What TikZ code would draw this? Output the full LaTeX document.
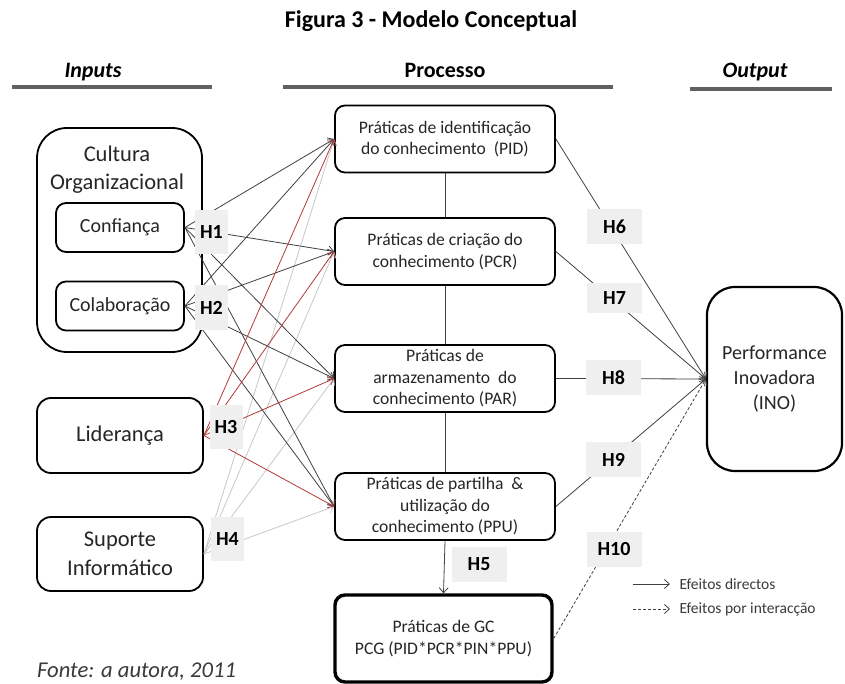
\documentclass[tikz,border=0pt]{standalone}
\usepackage{fontspec}
\setmainfont{Carlito}
\usetikzlibrary{arrows.meta}
\definecolor{txt}{HTML}{262626}
\definecolor{lnk}{HTML}{404040}
\definecolor{redl}{HTML}{B23A3A}
\definecolor{grayl}{HTML}{C8C8C8}
\definecolor{hbg}{HTML}{EFEFEF}
\definecolor{rulec}{HTML}{616161}
\definecolor{legc}{HTML}{3A3A3A}
\begin{document}
\begin{tikzpicture}[x=1pt,y=-1pt,
  box/.style={draw=black, line width=1.8pt, rounded corners=10pt, align=center, text=txt, inner sep=0pt},
  procbox/.style={box, minimum width=220pt, minimum height=67pt, font=\fontsize{17.6}{21.5}\selectfont},
  inbox/.style={box, minimum width=166pt, minimum height=74pt, rounded corners=14pt, font=\fontsize{22.5}{29}\selectfont},
  subbox/.style={box, minimum width=128pt, minimum height=49pt, font=\fontsize{20}{24}\selectfont},
  hlab/.style={fill=hbg, font=\bfseries\fontsize{20}{24}\selectfont, text=black, inner sep=0pt},
  hleft/.style={hlab, minimum width=33pt, minimum height=44pt},
  hright/.style={hlab, minimum width=55pt, minimum height=35pt},
  conn/.style={line width=0.8pt, -{Straight Barb[length=5pt,width=9pt]}},
  plain/.style={line width=0.8pt, draw=lnk},
  hdr/.style={font=\bfseries\fontsize{22}{26}\selectfont, anchor=base, text=black},
  rulel/.style={draw=rulec, line width=3.5pt},
  legtxt/.style={anchor=west, font=\fontsize{15.5}{18}\selectfont, text=legc},
  dsh/.style={dash pattern=on 3pt off 2pt}
]
\useasboundingbox (0,0) rectangle (845,684);
\fill[white] (0,0) rectangle (845,684);

% title and headers
\node[font=\bfseries\fontsize{24}{28}\selectfont, anchor=base] (title) at (431,28) {Figura 3 - Modelo Conceptual};
\node[hdr, font=\bfseries\itshape\fontsize{22}{26}\selectfont] (hin) at (93,78) {Inputs};
\node[hdr] (hpr) at (445,78) {Processo};
\node[hdr, font=\bfseries\itshape\fontsize{22}{26}\selectfont] (hout) at (755,78) {Output};
\draw[rulel] (12,87) -- (212,87);
\draw[rulel] (283,87) -- (613,87);
\draw[rulel] (690,89) -- (832,89);

% inputs
\node[box, minimum width=165pt, minimum height=224pt, rounded corners=30pt] (cult) at (119.5,240) {};
\node[align=center, font=\fontsize{22.5}{28}\selectfont, text=txt] (culttxt) at (117,170) {Cultura\\Organizacional};
\node[subbox] (conf) at (120,227.5) {Confiança};
\node[subbox] (colab) at (120,306) {Colaboração};
\node[inbox, minimum height=75pt] (lid) at (120,435.5) {Liderança};
\node[inbox] (sup) at (120,554) {Suporte\\Informático};

% process
\node[procbox] (pid) at (445,139) {Práticas de identificação\\do conhecimento\ \ (PID)};
\node[procbox] (pcr) at (445,251.5) {Práticas de criação do\\conhecimento (PCR)};
\node[procbox] (par) at (445,378.5) {Práticas de\\armazenamento\ \ do\\conhecimento (PAR)};
\node[procbox] (ppu) at (445,506.5) {Práticas de partilha\ \ \&\\utilização do\\conhecimento (PPU)};
\node[procbox, minimum width=217pt, minimum height=87pt, line width=3.4pt] (pcg) at (443.5,638.5) {Práticas de GC\\PCG (PID*PCR*PIN*PPU)};

% output
\node[box, minimum width=135pt, minimum height=184pt, rounded corners=28pt, line width=2.2pt, font=\fontsize{20}{25}\selectfont] (ino) at (774.5,379) {Performance\\Inovadora\\(INO)};

% fan connectors
\foreach \s/\c in {sup/grayl, conf/lnk, colab/lnk, lid/redl} {
  \foreach \t in {pid,pcr,par,ppu} {
    \draw[conn, draw=\c] (\s.east) -- (\t.west);
  }
}

% process chain
\draw[plain] (pid.south) -- (pcr.north);
\draw[plain] (pcr.south) -- (par.north);
\draw[plain] (par.south) -- (ppu.north);
\draw[plain, conn] (ppu.south) -- (pcg.north);

% to output
\foreach \t in {pid,pcr,par,ppu} {
  \draw[conn, draw=lnk] (\t.east) -- (ino.west);
}
\draw[conn, draw=lnk, dsh] (pcg.east) -- (ino.west);

% labels
\node[hleft] (h1) at (211.5,232) {H1};
\node[hleft] (h2) at (211.5,307.5) {H2};
\node[hleft] (h3) at (226,427) {H3};
\node[hleft] (h4) at (227.5,539) {H4};
\node[hright] (h5) at (479,564.5) {H5};
\node[hright] (h6) at (614.5,227) {H6};
\node[hright, minimum height=29pt] (h7) at (614.5,298) {H7};
\node[hright] (h8) at (613.5,377.5) {H8};
\node[hright] (h9) at (613.5,459.5) {H9};
\node[hright] (h10) at (614,549.5) {H10};

% legend
\coordinate (la1) at (633,584);
\coordinate (lb1) at (670,584);
\coordinate (la2) at (633,609);
\coordinate (lb2) at (670,609);
\draw[conn, draw=lnk] (la1) -- (lb1);
\draw[conn, draw=lnk, dsh] (la2) -- (lb2);
\node[legtxt] (leg1) at (676,584) {Efeitos directos};
\node[legtxt] (leg2) at (676,609) {Efeitos por interacção};

% source
\node[anchor=base west, font=\itshape\fontsize{22.6}{26}\selectfont, text=legc, inner sep=0pt] (fonte) at (37,677) {Fonte: a autora, 2011};
\end{tikzpicture}
\end{document}
